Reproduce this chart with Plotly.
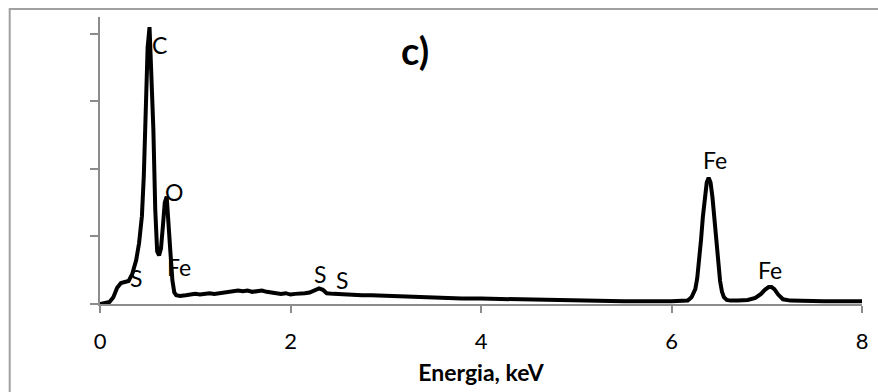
import plotly.graph_objects as go

# Spectrum (energy keV, intensity arbitrary units)
energy = [0.00, 0.05, 0.10, 0.14, 0.18, 0.22, 0.26, 0.30, 0.34, 0.38, 0.41, 0.44, 0.46, 0.48, 0.50,
          0.52, 0.54, 0.56, 0.58, 0.60, 0.62, 0.64, 0.66, 0.68, 0.70, 0.72, 0.74, 0.76, 0.78, 0.80,
          0.84, 0.90, 0.95, 1.00, 1.05, 1.10, 1.15, 1.20, 1.25, 1.30, 1.35, 1.40, 1.45, 1.50, 1.55,
          1.60, 1.65, 1.70, 1.75, 1.80, 1.85, 1.90, 1.95, 2.00, 2.05, 2.10, 2.15, 2.20, 2.25, 2.30,
          2.34, 2.38, 2.45, 2.55, 2.65, 2.75, 2.85, 3.00, 3.20, 3.40, 3.60, 3.80, 4.00, 4.30, 4.60,
          5.00, 5.50, 6.00, 6.10, 6.17, 6.21, 6.25, 6.27, 6.29, 6.31, 6.33, 6.35, 6.37, 6.39, 6.41,
          6.43, 6.45, 6.47, 6.49, 6.51, 6.53, 6.55, 6.58, 6.62, 6.70, 6.80, 6.88, 6.94, 6.98, 7.02,
          7.05, 7.08, 7.12, 7.17, 7.25, 7.40, 7.60, 7.80, 8.00]
counts = [0.00, 0.01, 0.03, 0.10, 0.24, 0.31, 0.33, 0.34, 0.45, 0.65, 0.90, 1.30, 1.90, 3.00, 3.80,
          4.10, 3.50, 2.60, 1.40, 0.78, 0.72, 0.82, 1.15, 1.50, 1.59, 1.25, 0.75, 0.35, 0.17, 0.13,
          0.12, 0.13, 0.14, 0.15, 0.14, 0.15, 0.16, 0.15, 0.16, 0.17, 0.18, 0.19, 0.20, 0.19, 0.20,
          0.18, 0.19, 0.20, 0.18, 0.17, 0.16, 0.15, 0.16, 0.14, 0.15, 0.15, 0.16, 0.17, 0.20, 0.23,
          0.21, 0.16, 0.15, 0.14, 0.14, 0.13, 0.13, 0.12, 0.11, 0.10, 0.09, 0.08, 0.08, 0.07, 0.06,
          0.05, 0.04, 0.04, 0.04, 0.05, 0.10, 0.22, 0.38, 0.62, 0.95, 1.30, 1.60, 1.80, 1.87, 1.80,
          1.58, 1.28, 0.92, 0.60, 0.34, 0.18, 0.10, 0.06, 0.05, 0.05, 0.06, 0.09, 0.15, 0.21, 0.25,
          0.25, 0.22, 0.14, 0.07, 0.05, 0.04, 0.04, 0.04, 0.04]

# Peak labels
label_text = ["C", "O", "Fe", "S", "S", "S", "Fe", "Fe"]
label_x = [0.625, 0.781, 0.833, 0.375, 2.31, 2.54, 6.46, 7.03]
label_y = [3.83, 1.66, 0.55, 0.38, 0.44, 0.36, 2.13, 0.50]

x_ticks = [0, 2, 4, 6, 8]
y_ticks = [0, 1, 2, 3, 4]

FONT = "Lato, 'Open Sans', sans-serif"

fig = go.Figure()
fig.add_trace(go.Scatter(x=energy, y=counts, mode="lines",
                         line=dict(color="black", width=4), hoverinfo="skip"))

for t, xx, yy in zip(label_text, label_x, label_y):
    fig.add_annotation(x=xx, y=yy, xref="x", yref="y", text=t, showarrow=False,
                       xanchor="center", yanchor="middle",
                       font=dict(family=FONT, size=23, color="black"))

fig.add_annotation(x=0.4128, y=0.885, xref="paper", yref="paper", text="<b>c)</b>",
                   showarrow=False, xanchor="center", yanchor="middle",
                   font=dict(family=FONT, size=38, color="black"))

# chart outer border
fig.add_shape(type="rect", xref="paper", yref="paper", x0=-0.1185, x1=1.05, y0=-0.5, y1=1.028,
              line=dict(color="#a0a0a0", width=2), fillcolor="rgba(0,0,0,0)", layer="below")

fig.update_layout(
    width=878, height=392,
    margin=dict(l=100, r=10, t=17, b=88),
    paper_bgcolor="white", plot_bgcolor="white",
    showlegend=False,
    font=dict(family=FONT, size=22, color="black"),
    xaxis=dict(range=[0, 8], tickvals=x_ticks, ticks="outside", ticklen=7, tickwidth=1.5,
               tickcolor="#8c8c8c", showline=True, linecolor="#8c8c8c", linewidth=1.5,
               showgrid=False, zeroline=False, ticklabelstandoff=10,
               tickfont=dict(family=FONT, size=22, color="black"),
               title=dict(text="<b>Energia, keV</b>", font=dict(family=FONT, size=23), standoff=12)),
    yaxis=dict(range=[0, 4.25], tickvals=y_ticks, showticklabels=False, ticks="outside",
               ticklen=8, tickwidth=1.5, tickcolor="#8c8c8c", showline=True,
               linecolor="#8c8c8c", linewidth=1.5, showgrid=False, zeroline=False),
)

fig.write_html("out.html")
